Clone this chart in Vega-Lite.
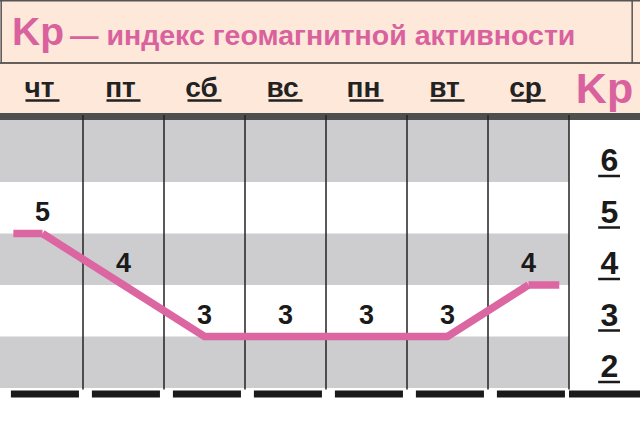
{
  "$schema": "https://vega.github.io/schema/vega-lite/v6.json",
  "width": 640,
  "height": 424,
  "autosize": {"type": "none"},
  "padding": 0,
  "background": "white",
  "datasets": {
    "days": [
      {"day": "чт", "kp": 5},
      {"day": "пт", "kp": 4},
      {"day": "сб", "kp": 3},
      {"day": "вс", "kp": 3},
      {"day": "пн", "kp": 3},
      {"day": "вт", "kp": 3},
      {"day": "ср", "kp": 4}
    ],
    "levels": [
      {"kp": 2, "upper": 3},
      {"kp": 3, "upper": 4},
      {"kp": 4, "upper": 5},
      {"kp": 5, "upper": 6},
      {"kp": 6, "upper": 7.21}
    ]
  },
  "layer": [
    {
      "data": {"values": [{}]},
      "mark": {"type": "rect", "fill": "#fde8da"},
      "encoding": {"y": {"datum": 7.2}, "y2": {"datum": 9.6}}
    },
    {
      "data": {"values": [{}]},
      "mark": {"type": "rule", "stroke": "#333333", "strokeWidth": 1.5},
      "encoding": {"y": {"datum": 8.311}}
    },
    {
      "data": {"values": [{}]},
      "mark": {"type": "rule", "stroke": "#555555", "strokeWidth": 1.5},
      "encoding": {"y": {"datum": 9.52}}
    },
    {
      "data": {"values": [{}]},
      "mark": {"type": "rule", "stroke": "#555555", "strokeWidth": 1.5},
      "encoding": {"x": {"datum": "чт", "bandPosition": -0.01}, "y": {"datum": 8.311}, "y2": {"datum": 9.534}}
    },
    {
      "data": {"values": [{}]},
      "mark": {"type": "rule", "stroke": "#555555", "strokeWidth": 1.5},
      "encoding": {"x": {"datum": "Kp", "bandPosition": 0.78}, "y": {"datum": 8.311}, "y2": {"datum": 9.534}}
    },
    {
      "data": {"values": [{}]},
      "mark": {"type": "text", "text": "Kp", "align": "left", "baseline": "alphabetic", "dx": 10,
               "font": "Liberation Sans", "fontWeight": "bold", "fontSize": 39, "fill": "#d9629e"},
      "encoding": {"x": {"datum": "чт", "bandPosition": 0}, "y": {"datum": 8.66}}
    },
    {
      "data": {"values": [{}]},
      "mark": {"type": "text", "text": "— индекс геомагнитной активности", "align": "left", "baseline": "alphabetic", "dx": 68,
               "font": "Liberation Sans", "fontWeight": "bold", "fontSize": 28.5, "fill": "#d9629e"},
      "encoding": {"x": {"datum": "чт", "bandPosition": 0}, "y": {"datum": 8.66}}
    },
    {
      "data": {"name": "days"},
      "mark": {"type": "text", "baseline": "alphabetic", "dx": -3,
               "font": "Liberation Sans", "fontWeight": "bold", "fontSize": 28, "fill": "#222222"},
      "encoding": {"x": {"field": "day"}, "y": {"datum": 7.65}, "text": {"field": "day"}}
    },
    {
      "data": {"name": "days"},
      "mark": {"type": "rule", "stroke": "#222222", "strokeWidth": 2.5},
      "encoding": {
        "x": {"field": "day", "bandPosition": 0.29},
        "x2": {"field": "day", "bandPosition": 0.71},
        "y": {"datum": 7.583}
      }
    },
    {
      "data": {"values": [{}]},
      "mark": {"type": "text", "text": "Kp", "baseline": "alphabetic", "dx": -5,
               "font": "Liberation Sans", "fontWeight": "bold", "fontSize": 43, "fill": "#d9629e"},
      "encoding": {"x": {"datum": "Kp"}, "y": {"datum": 7.534}}
    },
    {
      "data": {"name": "levels"},
      "transform": [{"filter": "datum.kp % 2 == 0"}],
      "mark": {"type": "rect", "fill": "#cdcdd0"},
      "encoding": {"y": {"field": "kp", "type": "quantitative"}, "y2": {"field": "upper"}}
    },
    {
      "data": {"values": [{}]},
      "mark": {"type": "rect", "fill": "white"},
      "encoding": {"x": {"datum": "Kp"}, "y": {"datum": 1.3}, "y2": {"datum": 7.21}}
    },
    {
      "data": {"values": [{}]},
      "mark": {"type": "rect", "fill": "#4f4f4f"},
      "encoding": {"y": {"datum": 7.204}, "y2": {"datum": 7.34}}
    },
    {
      "data": {"name": "days"},
      "mark": {"type": "rule", "stroke": "#222222", "strokeWidth": 1.5},
      "encoding": {
        "x": {"field": "day", "bandPosition": 1},
        "y": {"datum": 1.97},
        "y2": {"datum": 7.3}
      }
    },
    {
      "data": {"name": "days"},
      "mark": {"type": "rule", "stroke": "#1a1a1a", "strokeWidth": 7},
      "encoding": {
        "x": {"field": "day", "bandPosition": 0.11},
        "x2": {"field": "day", "bandPosition": 0.95},
        "y": {"datum": 1.883}
      }
    },
    {
      "data": {"values": [{}]},
      "mark": {"type": "rule", "stroke": "#1a1a1a", "strokeWidth": 7},
      "encoding": {
        "x": {"datum": "Kp", "bandPosition": 0},
        "x2": {"datum": "Kp", "bandPosition": 1},
        "y": {"datum": 1.883}
      }
    },
    {
      "data": {"name": "levels"},
      "mark": {"type": "text", "baseline": "alphabetic", "dy": -11,
               "font": "Liberation Sans", "fontWeight": "bold", "fontSize": 32, "fill": "#1a1a1a"},
      "encoding": {"x": {"datum": "Kp"}, "y": {"field": "kp", "type": "quantitative"}, "text": {"field": "kp"}}
    },
    {
      "data": {"name": "levels"},
      "mark": {"type": "rule", "stroke": "#1a1a1a", "strokeWidth": 2.5, "yOffset": -6},
      "encoding": {
        "x": {"datum": "Kp", "bandPosition": 0.36},
        "x2": {"datum": "Kp", "bandPosition": 0.63},
        "y": {"field": "kp", "type": "quantitative"}
      }
    },
    {
      "data": {"name": "days"},
      "mark": {"type": "line", "stroke": "#dc66a1", "strokeWidth": 7.5, "strokeJoin": "miter"},
      "encoding": {"x": {"field": "day"}, "y": {"field": "kp", "type": "quantitative"}}
    },
    {
      "data": {"name": "days"},
      "transform": [{"filter": "datum.day == 'чт'"}],
      "mark": {"type": "rule", "stroke": "#dc66a1", "strokeWidth": 7.5},
      "encoding": {
        "x": {"field": "day", "bandPosition": 0.14},
        "x2": {"field": "day", "bandPosition": 0.5},
        "y": {"field": "kp", "type": "quantitative"}
      }
    },
    {
      "data": {"name": "days"},
      "transform": [{"filter": "datum.day == 'ср'"}],
      "mark": {"type": "rule", "stroke": "#dc66a1", "strokeWidth": 7.5},
      "encoding": {
        "x": {"field": "day", "bandPosition": 0.5},
        "x2": {"field": "day", "bandPosition": 0.88},
        "y": {"field": "kp", "type": "quantitative"}
      }
    },
    {
      "data": {"name": "days"},
      "mark": {"type": "text", "baseline": "middle", "dy": -21,
               "font": "Liberation Sans", "fontWeight": "bold", "fontSize": 27, "fill": "#1a1a1a"},
      "encoding": {"x": {"field": "day"}, "y": {"field": "kp", "type": "quantitative"}, "text": {"field": "kp"}}
    }
  ],
  "encoding": {
    "x": {
      "type": "nominal",
      "scale": {"type": "band", "domain": ["чт", "пт", "сб", "вс", "пн", "вт", "ср", "Kp"], "range": [2, 650], "paddingInner": 0, "paddingOuter": 0}
    },
    "y": {
      "type": "quantitative",
      "scale": {"domain": [1.301, 9.534], "zero": false, "nice": false}
    }
  },
  "config": {
    "view": {"stroke": null},
    "axis": {"disable": true}
  }
}
